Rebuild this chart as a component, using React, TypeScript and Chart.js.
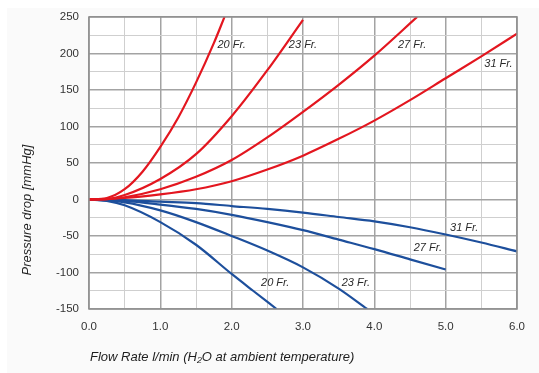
import React, { useEffect, useRef } from "react";
import { Chart, registerables } from "chart.js";

Chart.register(...registerables);

const xRed20 = [0, 0.25, 0.5, 0.75, 1.0, 1.25, 1.5, 1.75, 1.9];
const yRed20 = [0, 2, 14, 38, 72, 112, 160, 214, 250];
const xRed23 = [0, 0.25, 0.5, 1.0, 1.5, 2.0, 2.5, 3.0];
const yRed23 = [0, 0.5, 6, 28, 62, 114, 177, 246];
const xRed27 = [0, 0.25, 0.5, 1.0, 1.5, 2.0, 2.5, 3.0, 3.5, 4.0, 4.6];
const yRed27 = [0, 0.3, 3, 14, 31, 54, 85, 120, 157, 197, 250];
const xRed31 = [0, 0.5, 1.0, 1.5, 2.0, 2.5, 3.0, 3.5, 4.0, 4.5, 5.0, 5.5, 6.0];
const yRed31 = [0, 2, 7, 14, 25, 41, 60, 83, 108, 136, 166, 196, 227];

const xBlue20 = [0, 0.25, 0.5, 1.0, 1.5, 2.0, 2.3, 2.63];
const yBlue20 = [0, -2, -8, -31, -62, -102, -125, -150];
const xBlue23 = [0, 0.5, 1.0, 1.5, 2.0, 2.5, 3.0, 3.5, 3.9];
const yBlue23 = [0, -4, -15, -31, -50, -70, -93, -122, -150];
const xBlue27 = [0, 0.5, 1.0, 1.5, 2.0, 2.5, 3.0, 3.5, 4.0, 4.5, 5.0];
const yBlue27 = [0, -2, -7, -13, -21, -31, -42, -55, -68, -82, -96];
const xBlue31 = [0, 0.5, 1.0, 1.5, 2.0, 2.5, 3.0, 3.5, 4.0, 4.5, 5.0, 5.5, 6.0];
const yBlue31 = [0, -1, -3, -5, -9, -13, -18, -24, -30, -38, -48, -59, -71];

const labelText = ["20 Fr.", "23 Fr.", "27 Fr.", "31 Fr.", "31 Fr.", "27 Fr.", "20 Fr.", "23 Fr."];
const labelX = [2.0, 3.0, 4.53, 5.74, 5.26, 4.75, 2.61, 3.74];
const labelY = [212, 212, 212, 186, -39, -66, -114, -114];

const xTicks = [0, 1, 2, 3, 4, 5, 6];
const yTicks = [-150, -100, -50, 0, 50, 100, 150, 200, 250];

const RED = "#e3161f";
const BLUE = "#1d4f9c";

function pts(xs: number[], ys: number[]) {
  return xs.map((x, i) => ({ x, y: ys[i] }));
}

export default function App() {
  const ref = useRef<HTMLCanvasElement | null>(null);
  useEffect(() => {
    document.body.style.margin = "0";
    document.body.style.background = "#ffffff";
    const canvas = ref.current!;
    const bgPlugin = {
      id: "bg",
      beforeDraw(chart: any) {
        const ctx = chart.ctx;
        ctx.save();
        ctx.fillStyle = "#ffffff";
        ctx.fillRect(0, 0, chart.width, chart.height);
        ctx.fillStyle = "#fafafa";
        ctx.fillRect(7, 8, chart.width - 7, chart.height - 8);
        const a = chart.chartArea;
        ctx.fillStyle = "#ffffff";
        ctx.fillRect(a.left, a.top, a.right - a.left, a.bottom - a.top);
        ctx.restore();
      },
      afterDraw(chart: any) {
        const ctx = chart.ctx;
        const xs = chart.scales.x;
        const ys = chart.scales.y;
        const a = chart.chartArea;
        ctx.save();
        ctx.strokeStyle = "#8e8e8e";
        ctx.lineWidth = 1.5;
        ctx.strokeRect(a.left, a.top, a.right - a.left, a.bottom - a.top);
        ctx.fillStyle = "#2a2a2a";
        ctx.font = "italic 11px 'Liberation Sans', Arial, sans-serif";
        ctx.textAlign = "center";
        ctx.textBaseline = "middle";
        labelText.forEach((t, i) => {
          ctx.fillText(t, xs.getPixelForValue(labelX[i]), ys.getPixelForValue(labelY[i]));
        });
        ctx.fillStyle = "#1e1e1e";
        ctx.font = "italic 13px 'Liberation Sans', Arial, sans-serif";
        ctx.textAlign = "left";
        ctx.fillText("Flow Rate l/min (H\u2082O at ambient temperature)", 90, 357);
        ctx.translate(27, 210);
        ctx.rotate(-Math.PI / 2);
        ctx.textAlign = "center";
        ctx.fillText("Pressure drop [mmHg]", 0, 0);
        ctx.restore();
      },
    };
    const mk = (xs: number[], ys: number[], color: string) => ({
      data: pts(xs, ys),
      borderColor: color,
      borderWidth: 2.2,
      pointRadius: 0,
      fill: false,
      cubicInterpolationMode: "monotone" as const,
    });
    const chart = new Chart(canvas, {
      type: "line",
      data: {
        datasets: [
          mk(xRed20, yRed20, RED),
          mk(xRed23, yRed23, RED),
          mk(xRed27, yRed27, RED),
          mk(xRed31, yRed31, RED),
          mk(xBlue20, yBlue20, BLUE),
          mk(xBlue23, yBlue23, BLUE),
          mk(xBlue27, yBlue27, BLUE),
          mk(xBlue31, yBlue31, BLUE),
        ],
      },
      options: {
        animation: false,
        responsive: false,
        devicePixelRatio: 1,
        layout: { padding: { left: 0, right: 22, top: 15, bottom: 0 } },
        plugins: { legend: { display: false }, tooltip: { enabled: false } },
        scales: {
          x: {
            type: "linear",
            min: 0,
            max: 6,
            afterFit: (s: any) => {
              s.height = 64;
            },
            afterBuildTicks: (s: any) => {
              const t: any[] = [];
              for (let i = 0; i <= 12; i++) t.push({ value: i * 0.5 });
              s.ticks = t;
            },
            border: { display: false },
            grid: {
              color: (c: any) => (Number.isInteger(c.tick?.value) ? "#a3a3a3" : "#cfcfcf"),
              lineWidth: (c: any) => (Number.isInteger(c.tick?.value) ? 1.5 : 1),
              drawTicks: false,
            },
            ticks: {
              padding: 11,
              color: "#333333",
              font: { size: 11.5, family: "'Liberation Sans', Arial, sans-serif" },
              maxRotation: 0,
              autoSkip: false,
              callback: (v: any) => (xTicks.includes(Number(v)) ? Number(v).toFixed(1) : ""),
            },
          },
          y: {
            type: "linear",
            min: -150,
            max: 250,
            afterFit: (s: any) => {
              s.width = 89;
            },
            afterBuildTicks: (s: any) => {
              const t: any[] = [];
              for (let v = -150; v <= 250; v += 25) t.push({ value: v });
              s.ticks = t;
            },
            border: { display: false },
            grid: {
              color: (c: any) => (c.tick && c.tick.value % 50 === 0 ? "#a3a3a3" : "#cfcfcf"),
              lineWidth: (c: any) => (c.tick && c.tick.value % 50 === 0 ? 1.5 : 1),
              drawTicks: false,
            },
            ticks: {
              padding: 10,
              color: "#333333",
              font: { size: 11.5, family: "'Liberation Sans', Arial, sans-serif" },
              autoSkip: false,
              callback: (v: any) => (yTicks.includes(Number(v)) ? String(v) : ""),
            },
          },
        },
      },
      plugins: [bgPlugin],
    });
    return () => chart.destroy();
  }, []);
  return (
    <div style={{ width: 539, height: 373 }}>
      <canvas ref={ref} width={539} height={373} style={{ display: "block" }} />
    </div>
  );
}
